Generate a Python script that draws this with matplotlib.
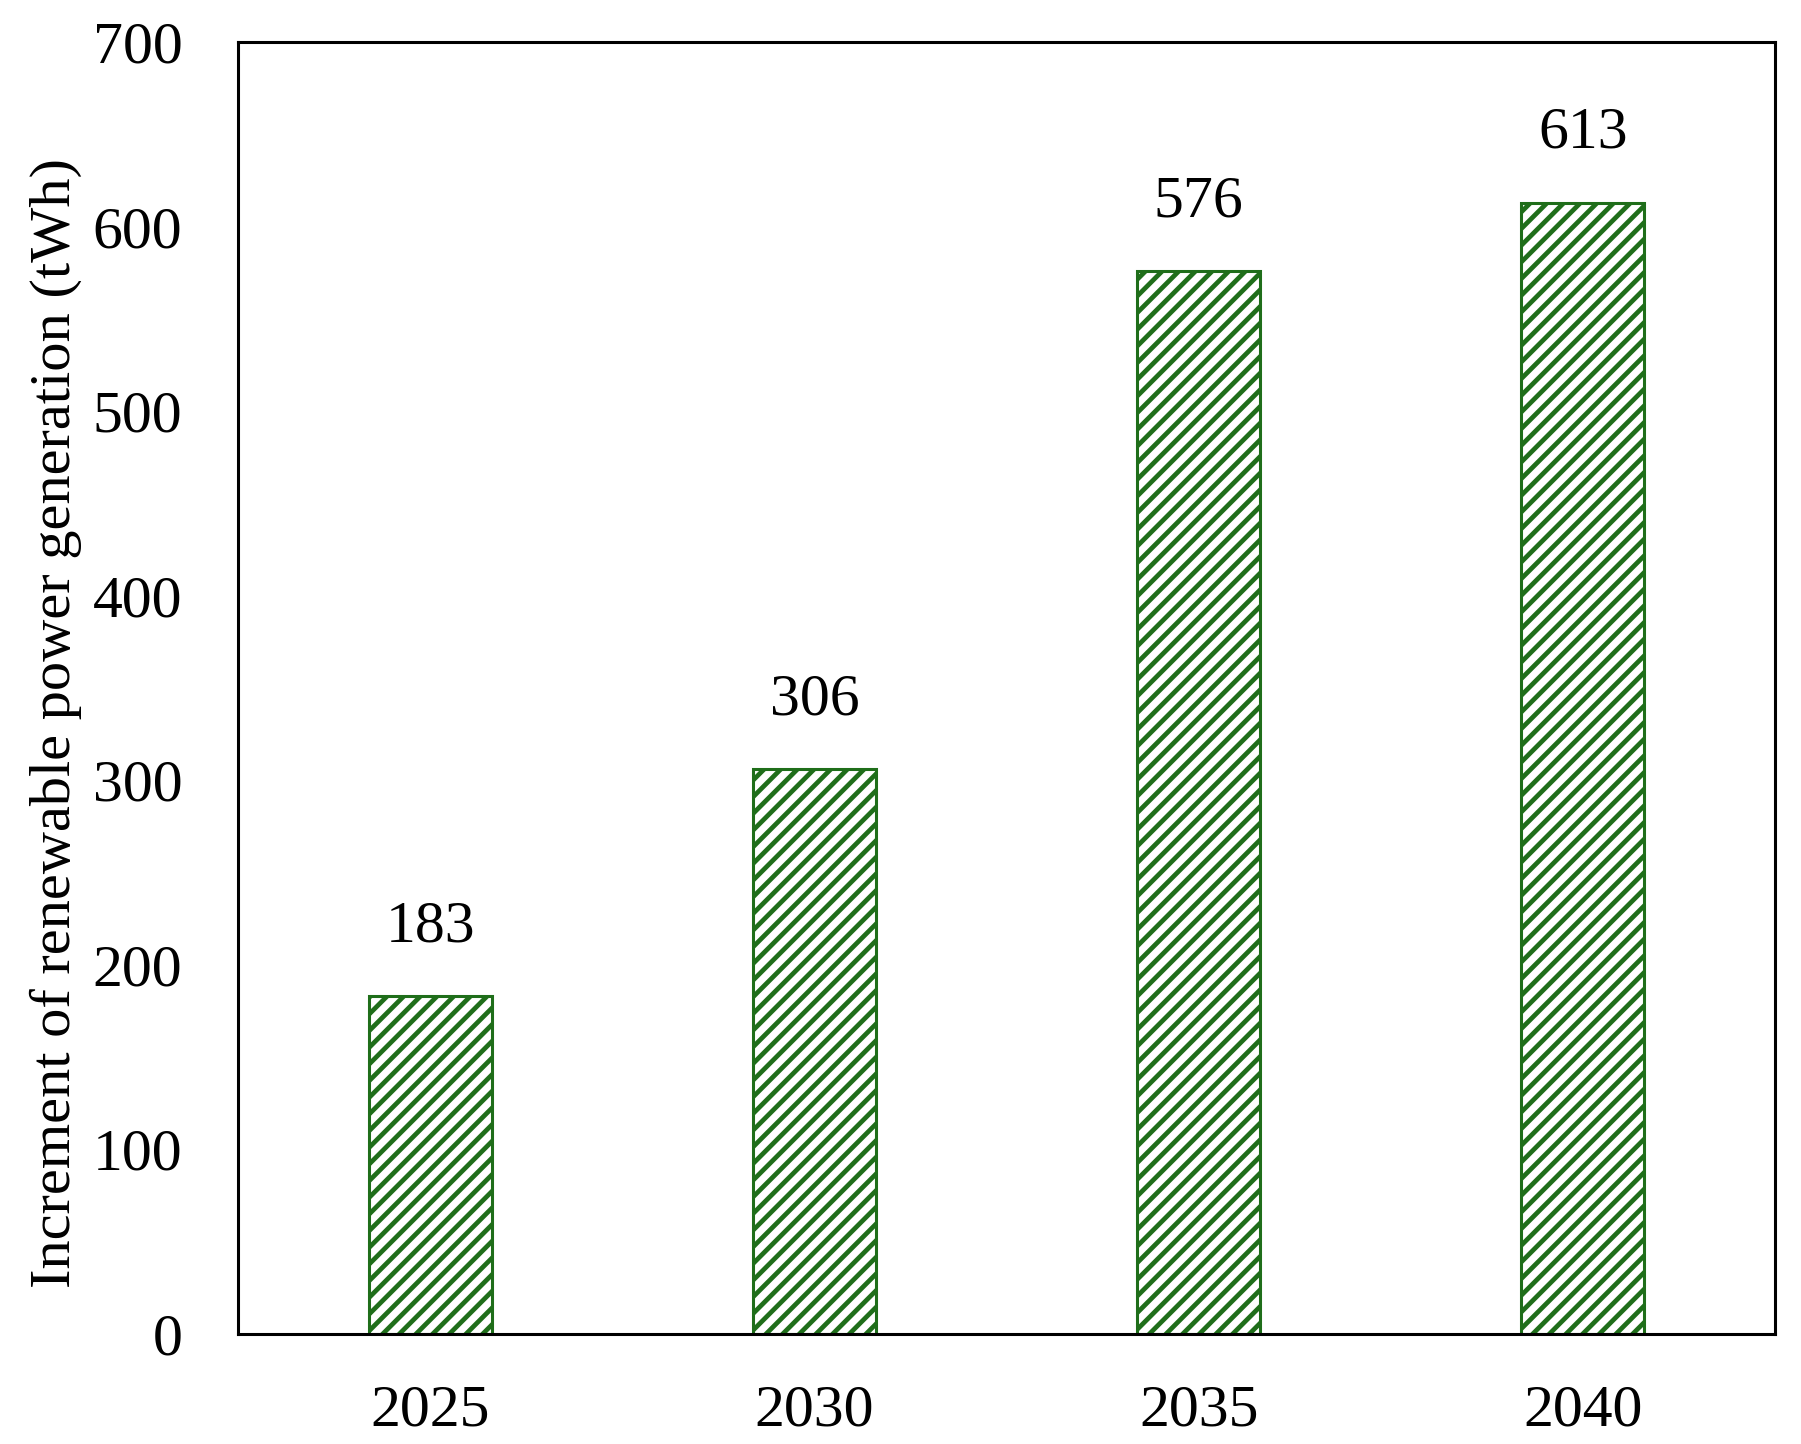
import matplotlib
matplotlib.use("Agg")
import matplotlib.pyplot as plt

# increment of renewable power generation by year
years = ["2025", "2030", "2035", "2040"]
increment = [183, 306, 576, 613]
yticks = [0, 100, 200, 300, 400, 500, 600, 700]

plt.rcParams['font.family'] = ['Liberation Serif', 'DejaVu Serif']
plt.rcParams['hatch.linewidth'] = 3.4
plt.rcParams['hatch.color'] = '#1f781a'

fig = plt.figure(figsize=(18.01, 14.44), dpi=100)
ax = fig.add_axes([238 / 1801, 1 - 1334 / 1444, (1775 - 238) / 1801, (1334 - 42) / 1444])

x = range(len(years))
bars = ax.bar(x, increment, width=0.32, facecolor='white', edgecolor='#1f6e1a',
              linewidth=2.2, hatch='//')

for xi, v in zip(x, increment):
    ax.annotate(str(v), (xi, v), xytext=(0, 30), textcoords='offset points',
                ha='center', va='bottom', fontsize=43)

ax.set_xlim(-0.5, 3.5)
ax.set_ylim(0, 700)
ax.set_xticks(list(x))
ax.set_xticklabels(years)
ax.set_yticks(yticks)
ax.tick_params(axis='both', length=0, labelsize=43)
ax.tick_params(axis='y', pad=40)
ax.tick_params(axis='x', pad=36)
for s in ax.spines.values():
    s.set_linewidth(2.2)
ax.set_ylabel("Increment of renewable power generation (tWh)", fontsize=42)
ax.yaxis.set_label_coords(-156 / 1537, 0.473)

fig.savefig("out.png", dpi=100)
